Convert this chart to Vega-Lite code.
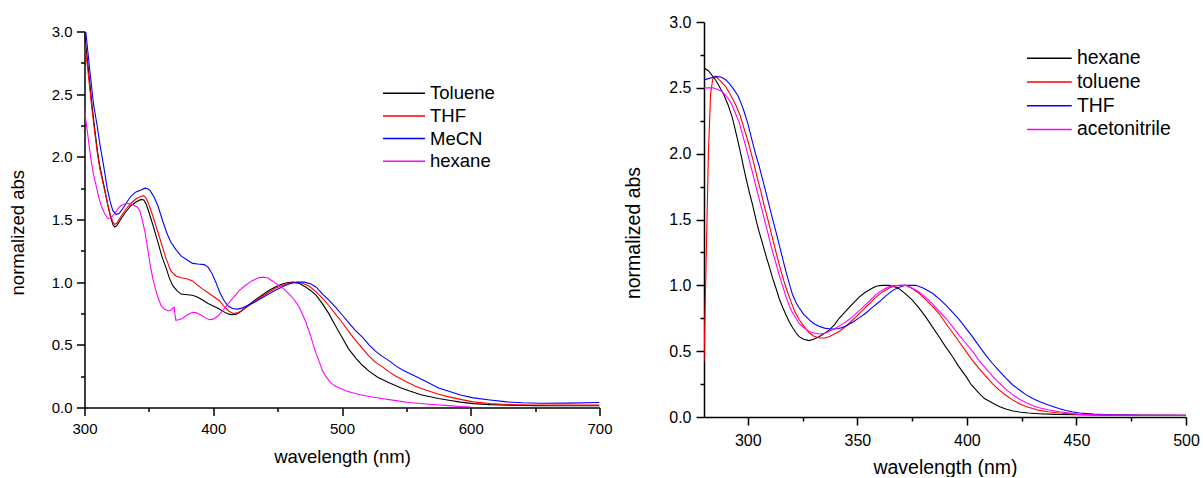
{
  "$schema": "https://vega.github.io/schema/vega-lite/v6.json",
  "padding": {"left": 7.5, "top": 14, "right": 0, "bottom": 0},
  "spacing": 104.5,
  "center": true,
  "bounds": "flush",
  "config": {
    "view": {"stroke": null},
    "font": "Liberation Sans",
    "axis": {"grid": false, "domainColor": "black", "domainWidth": 1.5, "tickColor": "black", "tickWidth": 1.5, "labelColor": "black", "titleColor": "black", "titleFontWeight": "normal", "labelFont": "Liberation Sans", "titleFont": "Liberation Sans", "labelFlush": false, "labelOverlap": false},
    "legend": {"labelFont": "Liberation Sans", "labelColor": "black"}
  },
  "datasets": {
    "left": [
      {"w":300,"a":2.99,"s":"Toluene"},{"w":303,"a":2.70,"s":"Toluene"},{"w":306,"a":2.40,"s":"Toluene"},{"w":308,"a":2.22,"s":"Toluene"},{"w":310,"a":2.05,"s":"Toluene"},{"w":312,"a":1.92,"s":"Toluene"},{"w":315.5,"a":1.75,"s":"Toluene"},{"w":318,"a":1.62,"s":"Toluene"},{"w":320,"a":1.53,"s":"Toluene"},{"w":322,"a":1.46,"s":"Toluene"},{"w":323.5,"a":1.44,"s":"Toluene"},{"w":325,"a":1.45,"s":"Toluene"},{"w":328,"a":1.50,"s":"Toluene"},{"w":332,"a":1.56,"s":"Toluene"},{"w":336,"a":1.61,"s":"Toluene"},{"w":340,"a":1.64,"s":"Toluene"},{"w":344,"a":1.66,"s":"Toluene"},{"w":346,"a":1.655,"s":"Toluene"},{"w":348,"a":1.62,"s":"Toluene"},{"w":350,"a":1.56,"s":"Toluene"},{"w":353,"a":1.46,"s":"Toluene"},{"w":357,"a":1.32,"s":"Toluene"},{"w":360,"a":1.21,"s":"Toluene"},{"w":363.5,"a":1.11,"s":"Toluene"},{"w":366,"a":1.03,"s":"Toluene"},{"w":368.7,"a":0.97,"s":"Toluene"},{"w":372,"a":0.93,"s":"Toluene"},{"w":375,"a":0.905,"s":"Toluene"},{"w":380,"a":0.90,"s":"Toluene"},{"w":384,"a":0.895,"s":"Toluene"},{"w":388,"a":0.88,"s":"Toluene"},{"w":392,"a":0.855,"s":"Toluene"},{"w":396,"a":0.83,"s":"Toluene"},{"w":400,"a":0.81,"s":"Toluene"},{"w":404,"a":0.79,"s":"Toluene"},{"w":408,"a":0.765,"s":"Toluene"},{"w":412,"a":0.745,"s":"Toluene"},{"w":415,"a":0.74,"s":"Toluene"},{"w":418,"a":0.745,"s":"Toluene"},{"w":422,"a":0.77,"s":"Toluene"},{"w":427,"a":0.815,"s":"Toluene"},{"w":432,"a":0.855,"s":"Toluene"},{"w":437,"a":0.89,"s":"Toluene"},{"w":442,"a":0.925,"s":"Toluene"},{"w":447,"a":0.955,"s":"Toluene"},{"w":452,"a":0.98,"s":"Toluene"},{"w":457,"a":0.995,"s":"Toluene"},{"w":462,"a":1.0,"s":"Toluene"},{"w":467,"a":0.99,"s":"Toluene"},{"w":472,"a":0.96,"s":"Toluene"},{"w":476,"a":0.93,"s":"Toluene"},{"w":480,"a":0.895,"s":"Toluene"},{"w":485,"a":0.825,"s":"Toluene"},{"w":490,"a":0.745,"s":"Toluene"},{"w":495,"a":0.65,"s":"Toluene"},{"w":500,"a":0.56,"s":"Toluene"},{"w":505,"a":0.47,"s":"Toluene"},{"w":511,"a":0.39,"s":"Toluene"},{"w":516,"a":0.335,"s":"Toluene"},{"w":521,"a":0.29,"s":"Toluene"},{"w":528,"a":0.24,"s":"Toluene"},{"w":537,"a":0.195,"s":"Toluene"},{"w":545,"a":0.16,"s":"Toluene"},{"w":552,"a":0.133,"s":"Toluene"},{"w":562,"a":0.1,"s":"Toluene"},{"w":575,"a":0.072,"s":"Toluene"},{"w":583,"a":0.058,"s":"Toluene"},{"w":592,"a":0.043,"s":"Toluene"},{"w":602,"a":0.031,"s":"Toluene"},{"w":615,"a":0.023,"s":"Toluene"},{"w":630,"a":0.018,"s":"Toluene"},{"w":650,"a":0.015,"s":"Toluene"},{"w":675,"a":0.014,"s":"Toluene"},{"w":700,"a":0.014,"s":"Toluene"},
      {"w":300,"a":2.93,"s":"THF"},{"w":303,"a":2.65,"s":"THF"},{"w":306,"a":2.36,"s":"THF"},{"w":308,"a":2.19,"s":"THF"},{"w":310,"a":2.03,"s":"THF"},{"w":312,"a":1.90,"s":"THF"},{"w":315.5,"a":1.74,"s":"THF"},{"w":318,"a":1.62,"s":"THF"},{"w":320,"a":1.54,"s":"THF"},{"w":322,"a":1.48,"s":"THF"},{"w":323.5,"a":1.46,"s":"THF"},{"w":325,"a":1.47,"s":"THF"},{"w":328,"a":1.52,"s":"THF"},{"w":332,"a":1.58,"s":"THF"},{"w":336,"a":1.63,"s":"THF"},{"w":340,"a":1.665,"s":"THF"},{"w":344,"a":1.685,"s":"THF"},{"w":346,"a":1.69,"s":"THF"},{"w":348,"a":1.67,"s":"THF"},{"w":350,"a":1.62,"s":"THF"},{"w":353,"a":1.53,"s":"THF"},{"w":357,"a":1.40,"s":"THF"},{"w":360,"a":1.30,"s":"THF"},{"w":363,"a":1.20,"s":"THF"},{"w":367,"a":1.09,"s":"THF"},{"w":371,"a":1.05,"s":"THF"},{"w":375,"a":1.035,"s":"THF"},{"w":380,"a":1.025,"s":"THF"},{"w":384,"a":1.01,"s":"THF"},{"w":388,"a":0.975,"s":"THF"},{"w":391,"a":0.95,"s":"THF"},{"w":396,"a":0.915,"s":"THF"},{"w":401,"a":0.88,"s":"THF"},{"w":405,"a":0.85,"s":"THF"},{"w":409,"a":0.80,"s":"THF"},{"w":412,"a":0.77,"s":"THF"},{"w":415.5,"a":0.75,"s":"THF"},{"w":419,"a":0.755,"s":"THF"},{"w":424,"a":0.785,"s":"THF"},{"w":430,"a":0.83,"s":"THF"},{"w":437,"a":0.88,"s":"THF"},{"w":443,"a":0.92,"s":"THF"},{"w":449,"a":0.955,"s":"THF"},{"w":455,"a":0.98,"s":"THF"},{"w":460,"a":0.995,"s":"THF"},{"w":465,"a":1.0,"s":"THF"},{"w":470,"a":0.99,"s":"THF"},{"w":475,"a":0.965,"s":"THF"},{"w":480,"a":0.92,"s":"THF"},{"w":485,"a":0.87,"s":"THF"},{"w":490,"a":0.81,"s":"THF"},{"w":495,"a":0.745,"s":"THF"},{"w":500,"a":0.68,"s":"THF"},{"w":505,"a":0.61,"s":"THF"},{"w":511,"a":0.53,"s":"THF"},{"w":516,"a":0.47,"s":"THF"},{"w":521,"a":0.41,"s":"THF"},{"w":526,"a":0.36,"s":"THF"},{"w":532,"a":0.32,"s":"THF"},{"w":537,"a":0.28,"s":"THF"},{"w":542,"a":0.25,"s":"THF"},{"w":550,"a":0.205,"s":"THF"},{"w":557,"a":0.17,"s":"THF"},{"w":565,"a":0.14,"s":"THF"},{"w":575,"a":0.105,"s":"THF"},{"w":583,"a":0.085,"s":"THF"},{"w":592,"a":0.065,"s":"THF"},{"w":602,"a":0.045,"s":"THF"},{"w":615,"a":0.032,"s":"THF"},{"w":628,"a":0.024,"s":"THF"},{"w":645,"a":0.02,"s":"THF"},{"w":665,"a":0.019,"s":"THF"},{"w":700,"a":0.02,"s":"THF"},
      {"w":301,"a":3.0,"s":"MeCN"},{"w":304,"a":2.70,"s":"MeCN"},{"w":307,"a":2.42,"s":"MeCN"},{"w":309.8,"a":2.25,"s":"MeCN"},{"w":312,"a":2.10,"s":"MeCN"},{"w":315,"a":1.92,"s":"MeCN"},{"w":317.6,"a":1.75,"s":"MeCN"},{"w":320,"a":1.64,"s":"MeCN"},{"w":322,"a":1.57,"s":"MeCN"},{"w":324.6,"a":1.54,"s":"MeCN"},{"w":327,"a":1.55,"s":"MeCN"},{"w":330,"a":1.59,"s":"MeCN"},{"w":333,"a":1.64,"s":"MeCN"},{"w":336,"a":1.685,"s":"MeCN"},{"w":340,"a":1.72,"s":"MeCN"},{"w":344,"a":1.735,"s":"MeCN"},{"w":347,"a":1.75,"s":"MeCN"},{"w":349,"a":1.745,"s":"MeCN"},{"w":351,"a":1.73,"s":"MeCN"},{"w":354,"a":1.68,"s":"MeCN"},{"w":357,"a":1.61,"s":"MeCN"},{"w":361,"a":1.48,"s":"MeCN"},{"w":364,"a":1.39,"s":"MeCN"},{"w":367,"a":1.32,"s":"MeCN"},{"w":371,"a":1.26,"s":"MeCN"},{"w":375,"a":1.21,"s":"MeCN"},{"w":380,"a":1.175,"s":"MeCN"},{"w":384,"a":1.15,"s":"MeCN"},{"w":388,"a":1.145,"s":"MeCN"},{"w":393,"a":1.14,"s":"MeCN"},{"w":396,"a":1.12,"s":"MeCN"},{"w":399,"a":1.07,"s":"MeCN"},{"w":402,"a":1.0,"s":"MeCN"},{"w":405,"a":0.92,"s":"MeCN"},{"w":408,"a":0.86,"s":"MeCN"},{"w":411.5,"a":0.81,"s":"MeCN"},{"w":415,"a":0.79,"s":"MeCN"},{"w":419,"a":0.785,"s":"MeCN"},{"w":423,"a":0.795,"s":"MeCN"},{"w":427,"a":0.815,"s":"MeCN"},{"w":432,"a":0.84,"s":"MeCN"},{"w":437,"a":0.87,"s":"MeCN"},{"w":443,"a":0.905,"s":"MeCN"},{"w":449,"a":0.94,"s":"MeCN"},{"w":455,"a":0.97,"s":"MeCN"},{"w":460,"a":0.99,"s":"MeCN"},{"w":466,"a":1.0,"s":"MeCN"},{"w":471,"a":1.0,"s":"MeCN"},{"w":476,"a":0.985,"s":"MeCN"},{"w":480,"a":0.96,"s":"MeCN"},{"w":485,"a":0.905,"s":"MeCN"},{"w":490,"a":0.855,"s":"MeCN"},{"w":495,"a":0.80,"s":"MeCN"},{"w":500,"a":0.74,"s":"MeCN"},{"w":505,"a":0.68,"s":"MeCN"},{"w":510,"a":0.62,"s":"MeCN"},{"w":516,"a":0.56,"s":"MeCN"},{"w":521,"a":0.50,"s":"MeCN"},{"w":526,"a":0.45,"s":"MeCN"},{"w":531,"a":0.41,"s":"MeCN"},{"w":537,"a":0.37,"s":"MeCN"},{"w":542,"a":0.33,"s":"MeCN"},{"w":547,"a":0.30,"s":"MeCN"},{"w":555,"a":0.26,"s":"MeCN"},{"w":563,"a":0.22,"s":"MeCN"},{"w":575,"a":0.155,"s":"MeCN"},{"w":583,"a":0.13,"s":"MeCN"},{"w":592,"a":0.10,"s":"MeCN"},{"w":602,"a":0.077,"s":"MeCN"},{"w":615,"a":0.06,"s":"MeCN"},{"w":628,"a":0.045,"s":"MeCN"},{"w":640,"a":0.038,"s":"MeCN"},{"w":655,"a":0.034,"s":"MeCN"},{"w":675,"a":0.035,"s":"MeCN"},{"w":700,"a":0.04,"s":"MeCN"},
      {"w":300,"a":2.37,"s":"hexane"},{"w":302,"a":2.22,"s":"hexane"},{"w":305,"a":1.98,"s":"hexane"},{"w":307,"a":1.86,"s":"hexane"},{"w":309,"a":1.77,"s":"hexane"},{"w":311,"a":1.68,"s":"hexane"},{"w":313,"a":1.61,"s":"hexane"},{"w":315.5,"a":1.55,"s":"hexane"},{"w":318,"a":1.51,"s":"hexane"},{"w":320,"a":1.51,"s":"hexane"},{"w":322,"a":1.53,"s":"hexane"},{"w":325,"a":1.57,"s":"hexane"},{"w":327,"a":1.60,"s":"hexane"},{"w":330,"a":1.62,"s":"hexane"},{"w":333,"a":1.63,"s":"hexane"},{"w":336,"a":1.625,"s":"hexane"},{"w":339,"a":1.61,"s":"hexane"},{"w":341,"a":1.60,"s":"hexane"},{"w":343,"a":1.57,"s":"hexane"},{"w":345,"a":1.49,"s":"hexane"},{"w":347,"a":1.40,"s":"hexane"},{"w":349,"a":1.27,"s":"hexane"},{"w":351,"a":1.14,"s":"hexane"},{"w":353,"a":1.03,"s":"hexane"},{"w":355,"a":0.95,"s":"hexane"},{"w":357,"a":0.88,"s":"hexane"},{"w":359.6,"a":0.81,"s":"hexane"},{"w":362,"a":0.785,"s":"hexane"},{"w":365,"a":0.77,"s":"hexane"},{"w":367,"a":0.775,"s":"hexane"},{"w":369.5,"a":0.80,"s":"hexane"},{"w":370.3,"a":0.74,"s":"hexane"},{"w":371,"a":0.695,"s":"hexane"},{"w":373,"a":0.70,"s":"hexane"},{"w":376,"a":0.71,"s":"hexane"},{"w":380,"a":0.74,"s":"hexane"},{"w":384,"a":0.76,"s":"hexane"},{"w":387,"a":0.755,"s":"hexane"},{"w":390,"a":0.74,"s":"hexane"},{"w":394,"a":0.715,"s":"hexane"},{"w":397,"a":0.70,"s":"hexane"},{"w":400,"a":0.705,"s":"hexane"},{"w":403.7,"a":0.73,"s":"hexane"},{"w":407,"a":0.77,"s":"hexane"},{"w":411,"a":0.82,"s":"hexane"},{"w":415,"a":0.87,"s":"hexane"},{"w":420,"a":0.93,"s":"hexane"},{"w":425,"a":0.975,"s":"hexane"},{"w":430,"a":1.01,"s":"hexane"},{"w":435,"a":1.035,"s":"hexane"},{"w":438.5,"a":1.04,"s":"hexane"},{"w":442,"a":1.035,"s":"hexane"},{"w":446,"a":1.01,"s":"hexane"},{"w":450,"a":0.98,"s":"hexane"},{"w":455,"a":0.945,"s":"hexane"},{"w":459,"a":0.905,"s":"hexane"},{"w":463,"a":0.86,"s":"hexane"},{"w":466.8,"a":0.80,"s":"hexane"},{"w":469.5,"a":0.74,"s":"hexane"},{"w":472,"a":0.68,"s":"hexane"},{"w":474,"a":0.62,"s":"hexane"},{"w":476,"a":0.56,"s":"hexane"},{"w":478,"a":0.49,"s":"hexane"},{"w":480,"a":0.43,"s":"hexane"},{"w":482.5,"a":0.36,"s":"hexane"},{"w":485,"a":0.29,"s":"hexane"},{"w":488,"a":0.24,"s":"hexane"},{"w":491,"a":0.20,"s":"hexane"},{"w":494,"a":0.175,"s":"hexane"},{"w":498,"a":0.155,"s":"hexane"},{"w":504,"a":0.13,"s":"hexane"},{"w":511,"a":0.11,"s":"hexane"},{"w":520,"a":0.09,"s":"hexane"},{"w":532,"a":0.07,"s":"hexane"},{"w":542,"a":0.055,"s":"hexane"},{"w":552,"a":0.04,"s":"hexane"},{"w":563,"a":0.03,"s":"hexane"},{"w":573,"a":0.022,"s":"hexane"},{"w":583,"a":0.015,"s":"hexane"},{"w":592,"a":0.008,"s":"hexane"},{"w":600,"a":0.004,"s":"hexane"}
    ],
    "right": [
      {"w":280,"a":2.65,"s":"hexane"},{"w":282,"a":2.63,"s":"hexane"},{"w":285.3,"a":2.56,"s":"hexane"},{"w":287,"a":2.51,"s":"hexane"},{"w":289,"a":2.45,"s":"hexane"},{"w":291,"a":2.37,"s":"hexane"},{"w":293,"a":2.27,"s":"hexane"},{"w":295,"a":2.13,"s":"hexane"},{"w":296.5,"a":2.02,"s":"hexane"},{"w":298.8,"a":1.84,"s":"hexane"},{"w":300.5,"a":1.72,"s":"hexane"},{"w":302.2,"a":1.61,"s":"hexane"},{"w":304,"a":1.48,"s":"hexane"},{"w":305.1,"a":1.41,"s":"hexane"},{"w":306.5,"a":1.33,"s":"hexane"},{"w":308.2,"a":1.23,"s":"hexane"},{"w":310,"a":1.13,"s":"hexane"},{"w":311.2,"a":1.06,"s":"hexane"},{"w":313,"a":0.97,"s":"hexane"},{"w":314.3,"a":0.90,"s":"hexane"},{"w":316,"a":0.83,"s":"hexane"},{"w":317.3,"a":0.78,"s":"hexane"},{"w":319,"a":0.72,"s":"hexane"},{"w":320.4,"a":0.68,"s":"hexane"},{"w":322,"a":0.64,"s":"hexane"},{"w":323.4,"a":0.61,"s":"hexane"},{"w":325.5,"a":0.59,"s":"hexane"},{"w":328,"a":0.58,"s":"hexane"},{"w":330,"a":0.59,"s":"hexane"},{"w":332.5,"a":0.61,"s":"hexane"},{"w":335,"a":0.635,"s":"hexane"},{"w":337.1,"a":0.66,"s":"hexane"},{"w":339.5,"a":0.70,"s":"hexane"},{"w":341.7,"a":0.75,"s":"hexane"},{"w":344,"a":0.79,"s":"hexane"},{"w":346.2,"a":0.83,"s":"hexane"},{"w":348.5,"a":0.87,"s":"hexane"},{"w":350.8,"a":0.91,"s":"hexane"},{"w":353.5,"a":0.945,"s":"hexane"},{"w":356.9,"a":0.98,"s":"hexane"},{"w":359,"a":0.995,"s":"hexane"},{"w":361.5,"a":1.0,"s":"hexane"},{"w":364.5,"a":1.0,"s":"hexane"},{"w":367,"a":0.99,"s":"hexane"},{"w":369,"a":0.975,"s":"hexane"},{"w":372,"a":0.935,"s":"hexane"},{"w":375,"a":0.89,"s":"hexane"},{"w":378,"a":0.83,"s":"hexane"},{"w":381.2,"a":0.76,"s":"hexane"},{"w":384,"a":0.69,"s":"hexane"},{"w":387.3,"a":0.61,"s":"hexane"},{"w":390,"a":0.54,"s":"hexane"},{"w":393.4,"a":0.46,"s":"hexane"},{"w":396,"a":0.39,"s":"hexane"},{"w":399.5,"a":0.31,"s":"hexane"},{"w":402,"a":0.245,"s":"hexane"},{"w":405.6,"a":0.18,"s":"hexane"},{"w":408,"a":0.14,"s":"hexane"},{"w":411.7,"a":0.106,"s":"hexane"},{"w":415,"a":0.078,"s":"hexane"},{"w":417.8,"a":0.061,"s":"hexane"},{"w":421,"a":0.046,"s":"hexane"},{"w":423.9,"a":0.038,"s":"hexane"},{"w":428,"a":0.03,"s":"hexane"},{"w":433,"a":0.025,"s":"hexane"},{"w":440,"a":0.02,"s":"hexane"},{"w":451,"a":0.017,"s":"hexane"},{"w":465,"a":0.014,"s":"hexane"},{"w":480,"a":0.012,"s":"hexane"},{"w":500,"a":0.011,"s":"hexane"},
      {"w":280,"a":0.42,"s":"toluene"},{"w":281,"a":1.2,"s":"toluene"},{"w":282,"a":2.0,"s":"toluene"},{"w":283,"a":2.45,"s":"toluene"},{"w":284,"a":2.57,"s":"toluene"},{"w":285,"a":2.59,"s":"toluene"},{"w":287,"a":2.56,"s":"toluene"},{"w":289.9,"a":2.51,"s":"toluene"},{"w":292,"a":2.45,"s":"toluene"},{"w":294.5,"a":2.37,"s":"toluene"},{"w":296.5,"a":2.29,"s":"toluene"},{"w":298.3,"a":2.19,"s":"toluene"},{"w":300,"a":2.10,"s":"toluene"},{"w":301.3,"a":2.02,"s":"toluene"},{"w":303,"a":1.91,"s":"toluene"},{"w":304.4,"a":1.81,"s":"toluene"},{"w":306,"a":1.71,"s":"toluene"},{"w":307.4,"a":1.61,"s":"toluene"},{"w":309,"a":1.51,"s":"toluene"},{"w":310.5,"a":1.41,"s":"toluene"},{"w":312,"a":1.31,"s":"toluene"},{"w":313.5,"a":1.21,"s":"toluene"},{"w":315,"a":1.12,"s":"toluene"},{"w":316.5,"a":1.03,"s":"toluene"},{"w":318,"a":0.955,"s":"toluene"},{"w":319.6,"a":0.88,"s":"toluene"},{"w":321.5,"a":0.80,"s":"toluene"},{"w":323.4,"a":0.74,"s":"toluene"},{"w":325.5,"a":0.69,"s":"toluene"},{"w":328,"a":0.64,"s":"toluene"},{"w":330,"a":0.615,"s":"toluene"},{"w":332.5,"a":0.60,"s":"toluene"},{"w":335,"a":0.60,"s":"toluene"},{"w":337.1,"a":0.61,"s":"toluene"},{"w":339.5,"a":0.63,"s":"toluene"},{"w":341.7,"a":0.65,"s":"toluene"},{"w":344,"a":0.68,"s":"toluene"},{"w":346.2,"a":0.71,"s":"toluene"},{"w":349,"a":0.755,"s":"toluene"},{"w":352.3,"a":0.81,"s":"toluene"},{"w":355.5,"a":0.86,"s":"toluene"},{"w":358.4,"a":0.91,"s":"toluene"},{"w":361.5,"a":0.95,"s":"toluene"},{"w":364.5,"a":0.98,"s":"toluene"},{"w":367,"a":0.995,"s":"toluene"},{"w":369.5,"a":1.0,"s":"toluene"},{"w":372,"a":1.0,"s":"toluene"},{"w":375,"a":0.975,"s":"toluene"},{"w":378.2,"a":0.94,"s":"toluene"},{"w":381,"a":0.895,"s":"toluene"},{"w":384.3,"a":0.84,"s":"toluene"},{"w":387.5,"a":0.78,"s":"toluene"},{"w":390.4,"a":0.71,"s":"toluene"},{"w":393.5,"a":0.64,"s":"toluene"},{"w":396.5,"a":0.57,"s":"toluene"},{"w":399.5,"a":0.50,"s":"toluene"},{"w":402.5,"a":0.43,"s":"toluene"},{"w":405.5,"a":0.37,"s":"toluene"},{"w":408.6,"a":0.31,"s":"toluene"},{"w":411.5,"a":0.255,"s":"toluene"},{"w":414.7,"a":0.206,"s":"toluene"},{"w":417.8,"a":0.165,"s":"toluene"},{"w":420.8,"a":0.13,"s":"toluene"},{"w":424,"a":0.10,"s":"toluene"},{"w":426.9,"a":0.08,"s":"toluene"},{"w":430,"a":0.064,"s":"toluene"},{"w":433,"a":0.05,"s":"toluene"},{"w":437,"a":0.04,"s":"toluene"},{"w":442.2,"a":0.03,"s":"toluene"},{"w":451.3,"a":0.019,"s":"toluene"},{"w":465,"a":0.014,"s":"toluene"},{"w":480,"a":0.012,"s":"toluene"},{"w":500,"a":0.012,"s":"toluene"},
      {"w":280,"a":2.56,"s":"THF"},{"w":282,"a":2.57,"s":"THF"},{"w":284.1,"a":2.58,"s":"THF"},{"w":286,"a":2.585,"s":"THF"},{"w":288,"a":2.58,"s":"THF"},{"w":290,"a":2.56,"s":"THF"},{"w":291.7,"a":2.53,"s":"THF"},{"w":293.5,"a":2.49,"s":"THF"},{"w":295.5,"a":2.44,"s":"THF"},{"w":297,"a":2.38,"s":"THF"},{"w":298.3,"a":2.32,"s":"THF"},{"w":300,"a":2.23,"s":"THF"},{"w":302.1,"a":2.09,"s":"THF"},{"w":303.5,"a":2.0,"s":"THF"},{"w":305.1,"a":1.91,"s":"THF"},{"w":306.5,"a":1.82,"s":"THF"},{"w":308.2,"a":1.71,"s":"THF"},{"w":309.7,"a":1.61,"s":"THF"},{"w":311.2,"a":1.51,"s":"THF"},{"w":312.8,"a":1.41,"s":"THF"},{"w":314.3,"a":1.31,"s":"THF"},{"w":315.8,"a":1.21,"s":"THF"},{"w":317.3,"a":1.11,"s":"THF"},{"w":318.8,"a":1.02,"s":"THF"},{"w":320.4,"a":0.93,"s":"THF"},{"w":322,"a":0.87,"s":"THF"},{"w":323.4,"a":0.83,"s":"THF"},{"w":325.5,"a":0.78,"s":"THF"},{"w":328,"a":0.74,"s":"THF"},{"w":330,"a":0.71,"s":"THF"},{"w":332.5,"a":0.69,"s":"THF"},{"w":335,"a":0.675,"s":"THF"},{"w":337.1,"a":0.67,"s":"THF"},{"w":339.5,"a":0.668,"s":"THF"},{"w":341.7,"a":0.672,"s":"THF"},{"w":344.5,"a":0.69,"s":"THF"},{"w":347.8,"a":0.72,"s":"THF"},{"w":351,"a":0.755,"s":"THF"},{"w":353.9,"a":0.79,"s":"THF"},{"w":357,"a":0.835,"s":"THF"},{"w":360,"a":0.875,"s":"THF"},{"w":363,"a":0.92,"s":"THF"},{"w":366,"a":0.96,"s":"THF"},{"w":369,"a":0.985,"s":"THF"},{"w":372,"a":1.0,"s":"THF"},{"w":376.7,"a":1.0,"s":"THF"},{"w":380,"a":0.98,"s":"THF"},{"w":384.3,"a":0.94,"s":"THF"},{"w":387.5,"a":0.895,"s":"THF"},{"w":390.4,"a":0.85,"s":"THF"},{"w":393.5,"a":0.795,"s":"THF"},{"w":396.5,"a":0.74,"s":"THF"},{"w":399.5,"a":0.675,"s":"THF"},{"w":402.5,"a":0.61,"s":"THF"},{"w":405.5,"a":0.54,"s":"THF"},{"w":408.6,"a":0.47,"s":"THF"},{"w":411.5,"a":0.41,"s":"THF"},{"w":414.7,"a":0.35,"s":"THF"},{"w":417.8,"a":0.295,"s":"THF"},{"w":420.8,"a":0.245,"s":"THF"},{"w":424,"a":0.205,"s":"THF"},{"w":426.9,"a":0.17,"s":"THF"},{"w":430,"a":0.14,"s":"THF"},{"w":433,"a":0.118,"s":"THF"},{"w":436,"a":0.098,"s":"THF"},{"w":439.1,"a":0.08,"s":"THF"},{"w":442,"a":0.064,"s":"THF"},{"w":445.2,"a":0.05,"s":"THF"},{"w":448,"a":0.04,"s":"THF"},{"w":451.3,"a":0.03,"s":"THF"},{"w":458,"a":0.022,"s":"THF"},{"w":465,"a":0.017,"s":"THF"},{"w":480,"a":0.013,"s":"THF"},{"w":500,"a":0.012,"s":"THF"},
      {"w":280,"a":2.50,"s":"acetonitrile"},{"w":282,"a":2.50,"s":"acetonitrile"},{"w":284.1,"a":2.50,"s":"acetonitrile"},{"w":286,"a":2.49,"s":"acetonitrile"},{"w":288.4,"a":2.47,"s":"acetonitrile"},{"w":290.5,"a":2.43,"s":"acetonitrile"},{"w":292.2,"a":2.39,"s":"acetonitrile"},{"w":294,"a":2.32,"s":"acetonitrile"},{"w":296,"a":2.24,"s":"acetonitrile"},{"w":297.5,"a":2.15,"s":"acetonitrile"},{"w":299,"a":2.06,"s":"acetonitrile"},{"w":300.5,"a":1.96,"s":"acetonitrile"},{"w":302.1,"a":1.86,"s":"acetonitrile"},{"w":303.6,"a":1.76,"s":"acetonitrile"},{"w":305.1,"a":1.66,"s":"acetonitrile"},{"w":306.7,"a":1.56,"s":"acetonitrile"},{"w":308.2,"a":1.46,"s":"acetonitrile"},{"w":309.7,"a":1.36,"s":"acetonitrile"},{"w":311.2,"a":1.26,"s":"acetonitrile"},{"w":312.8,"a":1.17,"s":"acetonitrile"},{"w":314.3,"a":1.08,"s":"acetonitrile"},{"w":315.8,"a":1.0,"s":"acetonitrile"},{"w":317.3,"a":0.92,"s":"acetonitrile"},{"w":318.8,"a":0.85,"s":"acetonitrile"},{"w":320.4,"a":0.79,"s":"acetonitrile"},{"w":322,"a":0.75,"s":"acetonitrile"},{"w":323.4,"a":0.71,"s":"acetonitrile"},{"w":325.5,"a":0.68,"s":"acetonitrile"},{"w":328,"a":0.65,"s":"acetonitrile"},{"w":330,"a":0.64,"s":"acetonitrile"},{"w":332.5,"a":0.63,"s":"acetonitrile"},{"w":335,"a":0.635,"s":"acetonitrile"},{"w":337.1,"a":0.65,"s":"acetonitrile"},{"w":339.5,"a":0.67,"s":"acetonitrile"},{"w":341.7,"a":0.69,"s":"acetonitrile"},{"w":344,"a":0.715,"s":"acetonitrile"},{"w":346.2,"a":0.74,"s":"acetonitrile"},{"w":349,"a":0.78,"s":"acetonitrile"},{"w":352.3,"a":0.83,"s":"acetonitrile"},{"w":355.5,"a":0.88,"s":"acetonitrile"},{"w":358.4,"a":0.93,"s":"acetonitrile"},{"w":361.5,"a":0.965,"s":"acetonitrile"},{"w":364.5,"a":0.99,"s":"acetonitrile"},{"w":367,"a":0.998,"s":"acetonitrile"},{"w":369.5,"a":1.0,"s":"acetonitrile"},{"w":372.1,"a":1.0,"s":"acetonitrile"},{"w":375,"a":0.98,"s":"acetonitrile"},{"w":378.2,"a":0.95,"s":"acetonitrile"},{"w":381,"a":0.91,"s":"acetonitrile"},{"w":384.3,"a":0.86,"s":"acetonitrile"},{"w":387.5,"a":0.80,"s":"acetonitrile"},{"w":390.4,"a":0.75,"s":"acetonitrile"},{"w":393.5,"a":0.685,"s":"acetonitrile"},{"w":396.5,"a":0.62,"s":"acetonitrile"},{"w":399.5,"a":0.56,"s":"acetonitrile"},{"w":402.5,"a":0.50,"s":"acetonitrile"},{"w":405.5,"a":0.43,"s":"acetonitrile"},{"w":408.6,"a":0.37,"s":"acetonitrile"},{"w":411.5,"a":0.315,"s":"acetonitrile"},{"w":414.7,"a":0.26,"s":"acetonitrile"},{"w":417.8,"a":0.21,"s":"acetonitrile"},{"w":420.8,"a":0.17,"s":"acetonitrile"},{"w":424,"a":0.135,"s":"acetonitrile"},{"w":426.9,"a":0.11,"s":"acetonitrile"},{"w":430,"a":0.088,"s":"acetonitrile"},{"w":433,"a":0.07,"s":"acetonitrile"},{"w":437,"a":0.055,"s":"acetonitrile"},{"w":442.2,"a":0.04,"s":"acetonitrile"},{"w":451.3,"a":0.02,"s":"acetonitrile"},{"w":465,"a":0.014,"s":"acetonitrile"},{"w":480,"a":0.012,"s":"acetonitrile"},{"w":500,"a":0.012,"s":"acetonitrile"}
    ]
  },
  "resolve": {"scale": {"color": "independent"}},
  "hconcat": [
    {
      "width": 515,
      "height": 376,
      "data": {"name": "left"},
      "resolve": {"axis": {"x": "independent", "y": "independent"}},
      "layer": [
        {
          "mark": {"type": "line", "strokeWidth": 1.1, "clip": true},
          "encoding": {
            "x": {"field": "w", "type": "quantitative", "scale": {"domain": [300, 700], "nice": false, "zero": false},
              "axis": {"orient": "bottom", "title": "wavelength (nm)", "values": [300,400,500,600,700], "tickSize": 8,
                "labelFontSize": 15, "titleFontSize": 18.5, "labelPadding": 6, "titleY": 49, "titleBaseline": "middle", "format": "d"}},
            "y": {"field": "a", "type": "quantitative", "scale": {"domain": [0, 3], "nice": false},
              "axis": {"orient": "left", "title": "normalized abs", "values": [0,0.5,1,1.5,2,2.5,3], "tickSize": 8,
                "format": ".1f", "labelFontSize": 15, "titleFontSize": 18.5, "labelPadding": 4.5, "titleX": -67.2, "titleY": 200.7, "titleBaseline": "middle"}},
            "color": {"field": "s", "type": "nominal",
              "scale": {"domain": ["Toluene", "THF", "MeCN", "hexane"], "range": ["#000000", "#ff0000", "#0000ff", "#ff00ff"]},
              "legend": {"title": null, "orient": "none", "legendX": 297.5, "legendY": 51.7, "symbolType": "stroke", "symbolSize": 1764, "symbolStrokeWidth": 1.5, "labelFontSize": 18.5, "labelOffset": 4, "clipHeight": 20, "rowPadding": 2.7, "padding": 0, "labelLimit": 300}}
          }
        },
        {
          "mark": {"type": "point", "opacity": 0},
          "encoding": {
            "x": {"field": "w", "type": "quantitative", "scale": {"domain": [300, 700], "nice": false, "zero": false},
              "axis": {"orient": "bottom", "title": null, "values": [350,450,550,650], "tickSize": 4, "labels": false, "domain": false}},
            "y": {"field": "a", "type": "quantitative", "scale": {"domain": [0, 3], "nice": false},
              "axis": {"orient": "left", "title": null, "values": [0.25,0.75,1.25,1.75,2.25,2.75], "tickSize": 4, "labels": false, "domain": false}}
          }
        }
      ]
    },
    {
      "width": 482,
      "height": 395,
      "data": {"name": "right"},
      "resolve": {"axis": {"x": "independent", "y": "independent"}},
      "layer": [
        {
          "mark": {"type": "line", "strokeWidth": 1.1, "clip": true},
          "encoding": {
            "x": {"field": "w", "type": "quantitative", "scale": {"domain": [280, 500], "nice": false, "zero": false},
              "axis": {"orient": "bottom", "title": "wavelength (nm)", "values": [300,350,400,450,500], "tickSize": 8,
                "labelFontSize": 16, "titleFontSize": 19.5, "labelPadding": 7, "titleY": 50.2, "titleBaseline": "middle", "format": "d"}},
            "y": {"field": "a", "type": "quantitative", "scale": {"domain": [0, 3], "nice": false},
              "axis": {"orient": "left", "title": "normalized abs", "values": [0,0.5,1,1.5,2,2.5,3], "tickSize": 8,
                "format": ".1f", "labelFontSize": 16, "titleFontSize": 19.5, "labelPadding": 5, "titleX": -70.5, "titleY": 210.5, "titleBaseline": "middle"}},
            "color": {"field": "s", "type": "nominal",
              "scale": {"domain": ["hexane", "toluene", "THF", "acetonitrile"], "range": ["#000000", "#ff0000", "#0000ff", "#ff00ff"]},
              "legend": {"title": null, "orient": "none", "legendX": 321.9, "legendY": 25.8, "symbolType": "stroke", "symbolSize": 1998, "symbolStrokeWidth": 1.5, "labelFontSize": 19.4, "labelOffset": 4, "clipHeight": 21, "rowPadding": 2.7, "padding": 0, "labelLimit": 300}}
          }
        },
        {
          "mark": {"type": "point", "opacity": 0},
          "encoding": {
            "x": {"field": "w", "type": "quantitative", "scale": {"domain": [280, 500], "nice": false, "zero": false},
              "axis": {"orient": "bottom", "title": null, "values": [325,375,425,475], "tickSize": 4, "labels": false, "domain": false}},
            "y": {"field": "a", "type": "quantitative", "scale": {"domain": [0, 3], "nice": false},
              "axis": {"orient": "left", "title": null, "values": [0.25,0.75,1.25,1.75,2.25,2.75], "tickSize": 4, "labels": false, "domain": false}}
          }
        }
      ]
    }
  ]
}
